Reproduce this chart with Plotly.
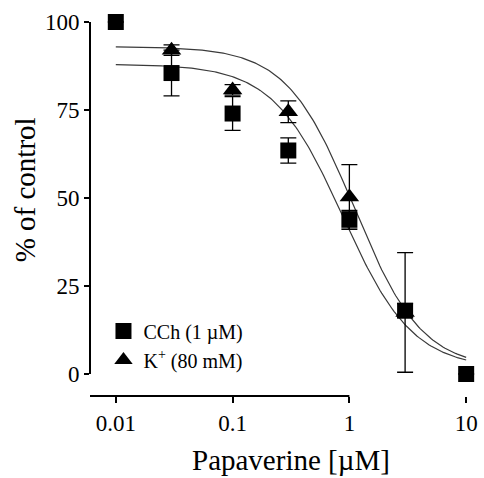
import numpy as np
import plotly.graph_objects as go

# Papaverine concentrations (µM)
conc_cch = [0.01, 0.03, 0.1, 0.3, 1, 3, 10]
conc_k = [0.03, 0.1, 0.3, 1, 3]

# Responses (% of control) and SEM
cch_mean = [100, 85.5, 74, 63.5, 44, 18, 0]
cch_sem = [0, 6.5, 4.8, 3.6, 2.5, 2, 0]
k_mean = [92, 80.7, 74.5, 50.3, 17.5]
k_sem = [1.5, 1.5, 3.1, 9.2, 17]

# Four-parameter logistic fit parameters: top, bottom, IC50 (µM), Hill slope
cch_fit = dict(top=88.0, bottom=1.5, ic50=0.88, hill=1.45)
k_fit = dict(top=93.0, bottom=1.5, ic50=1.1, hill=1.5)

tick_vals = [0.01, 0.1, 1, 10]
tick_text = ["0.01", "0.1", "1", "10"]
y_ticks = [0, 25, 50, 75, 100]

FONT = "Liberation Serif, Times New Roman, serif"


def logistic(x, top, bottom, ic50, hill):
    return bottom + (top - bottom) / (1 + (x / ic50) ** hill)


x_fit = np.logspace(-2, 1, 200)

fig = go.Figure()

for p in (cch_fit, k_fit):
    fig.add_trace(go.Scatter(
        x=x_fit, y=logistic(x_fit, **p), mode="lines",
        line=dict(color="#3a3a3a", width=1.2), showlegend=False,
        hoverinfo="skip"))

# K+ drawn first so the CCh squares sit on top where they overlap
fig.add_trace(go.Scatter(
    x=conc_k, y=k_mean, mode="markers", name="K<sup>+</sup> (80 mM)",
    marker=dict(symbol="triangle-up", size=17, color="black"),
    error_y=dict(type="data", array=k_sem, color="black",
                 thickness=1.3, width=8),
    cliponaxis=False, legendrank=2))

fig.add_trace(go.Scatter(
    x=conc_cch, y=cch_mean, mode="markers", name="CCh (1 µM)",
    marker=dict(symbol="square", size=16, color="black"),
    error_y=dict(type="data", array=cch_sem, color="black",
                 thickness=1.3, width=8),
    cliponaxis=False, legendrank=1))

# Detached axis lines
fig.add_shape(type="line", xref="paper", yref="y", x0=0, x1=0, y0=0, y1=100,
              line=dict(color="black", width=2))
fig.add_shape(type="line", xref="x", yref="paper", x0=-2, x1=1, y0=0, y1=0,
              line=dict(color="black", width=2))

fig.update_xaxes(
    type="log", range=[-2.2209, 1.0756], showline=False, showgrid=False,
    zeroline=False, tickvals=tick_vals, ticktext=tick_text,
    ticks="outside", ticklen=6, tickwidth=2, tickcolor="black",
    tickfont=dict(family=FONT, size=23, color="black"))

fig.update_yaxes(
    range=[-6.25, 102.84], showline=False, showgrid=False, zeroline=False,
    tickvals=y_ticks, ticks="outside", ticklen=5, tickwidth=2,
    tickcolor="black",
    tickfont=dict(family=FONT, size=23, color="black"))

# Axis titles
fig.add_annotation(text="Papaverine [µM]", xref="paper", yref="paper",
                   x=0.521, y=-0.166, xanchor="center", yanchor="middle",
                   showarrow=False,
                   font=dict(family=FONT, size=29, color="black"))
fig.add_annotation(text="% of control", xref="paper", yref="paper",
                   x=-0.168, y=0.5, yshift=14, xanchor="center",
                   yanchor="middle", textangle=-90, showarrow=False,
                   font=dict(family=FONT, size=29, color="black"))

fig.update_layout(
    width=484, height=478,
    margin=dict(l=90, r=6, t=12, b=82),
    plot_bgcolor="white", paper_bgcolor="white",
    legend=dict(x=0.035, y=0.22, xanchor="left", yanchor="top",
                bgcolor="rgba(0,0,0,0)",
                font=dict(family=FONT, size=20, color="black"),
                itemwidth=30),
)

fig.write_html("out.html")
